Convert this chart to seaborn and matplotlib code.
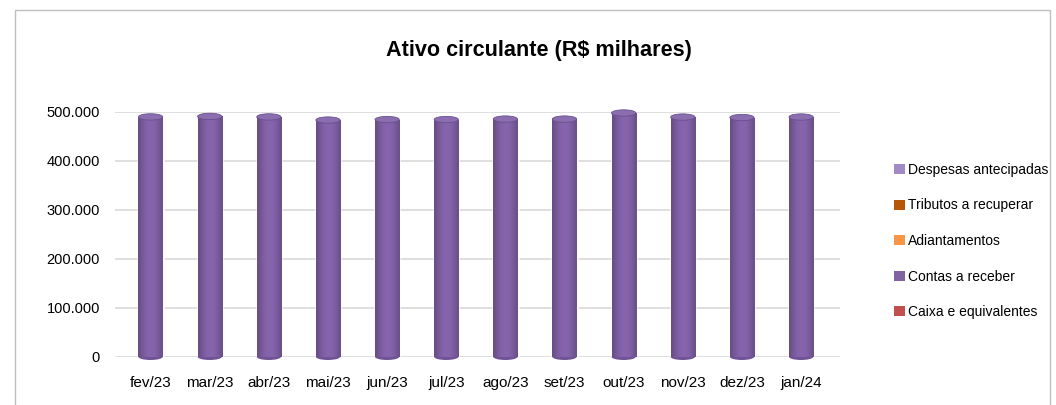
"""
ativo circulante - stacked cylinders (R$ milhares)
"""
import numpy as np
import pandas as pd
import seaborn as sea
import matplotlib.pyplot as plt
from matplotlib.patches import Ellipse, Patch, Rectangle

sea.set_style("white")
plt.rcParams["font.family"] = ["Liberation Sans", "DejaVu Sans"]
plt.rcParams["text.color"] = "black"
plt.rcParams["xtick.color"] = "black"
plt.rcParams["ytick.color"] = "black"

MONTHS = ["fev/23", "mar/23", "abr/23", "mai/23", "jun/23", "jul/23",
          "ago/23", "set/23", "out/23", "nov/23", "dez/23", "jan/24"]

# values in R$ mil, bottom to top of the stack
caixa      = [1200, 1100, 1300, 1000, 1100, 1200, 1000, 1100, 1300, 1200, 1100, 1200]
contas     = [486000, 487000, 486000, 480000, 481000, 481000, 482000, 482000, 494000, 486000, 485000, 486000]
adiant     = [500, 500, 400, 500, 400, 400, 500, 400, 500, 400, 500, 400]
tributos   = [600, 600, 600, 500, 500, 500, 500, 500, 500, 500, 500, 500]
despesas   = [1200, 1300, 1200, 1100, 1100, 1000, 1100, 1100, 1200, 1100, 1100, 1200]

SERIES = ["Caixa e equivalentes", "Contas a receber", "Adiantamentos",
          "Tributos a recuperar", "Despesas antecipadas"]
COLORS = {
    "Caixa e equivalentes": "#C0504D",
    "Contas a receber": "#8064A2",
    "Adiantamentos": "#F79646",
    "Tributos a recuperar": "#B65708",
    "Despesas antecipadas": "#A28BC4",
}

df = pd.DataFrame([caixa, contas, adiant, tributos, despesas],
                  index=SERIES, columns=MONTHS).T
cum = df.cumsum(axis=1)

fig = plt.figure(figsize=(10.56, 4.05), dpi=100)
ax = fig.add_axes([0.109, 0.119, 0.686, 0.605])

BAR_W = 0.41
CAP_H = 13000
# draw from the top layer down so lower layers cover the taller ones
for name in SERIES[::-1]:
    sea.barplot(x=cum.index, y=cum[name].values, color=COLORS[name],
                width=BAR_W, saturation=1, ax=ax, zorder=3)

# cylinder shading: horizontal gradient clipped to each bar
shade = np.array([0.0, 0.35, 0.6, 0.8, 0.92, 1.0, 0.95, 0.85, 0.65, 0.4, 0.1])
base = np.array([0.52, 0.39, 0.67])
grad = np.clip(base[None, :] * (0.78 + 0.24 * shade[:, None]), 0, 1)[None, :, :]
for bar in list(ax.patches):
    x0, y0 = bar.get_x(), bar.get_y()
    w, h = bar.get_width(), bar.get_height()
    if h < 100000:
        continue
    im = ax.imshow(grad, extent=(x0, x0 + w, y0, y0 + h), aspect="auto",
                   zorder=3.5, interpolation="bicubic")
    im.set_clip_path(bar)

# cylinder caps and rounded bottoms
for i, total in enumerate(cum[SERIES[-1]].values):
    ax.add_patch(Ellipse((i, 0), BAR_W, CAP_H, facecolor="#6F5394",
                         edgecolor="none", zorder=2, clip_on=False))
    ax.add_patch(Ellipse((i, total), BAR_W, CAP_H, facecolor="#8A6EAF",
                         edgecolor="#6A4F8E", lw=0.6, zorder=5, clip_on=False))

ax.set_ylim(0, 500000)
ax.set_xlim(-0.6, len(MONTHS) - 0.35)
ax.set_yticks(np.arange(0, 500001, 100000))
ax.set_yticklabels(["0" if v == 0 else f"{v:,}".replace(",", ".")
                    for v in range(0, 500001, 100000)])
ax.yaxis.grid(True, color="#D9D9D9", lw=1.2, zorder=0)
ax.tick_params(axis="x", labelsize=11, length=0, pad=14)
ax.tick_params(axis="y", labelsize=10.5, length=0, pad=11)
ax.set_xlabel("")
ax.set_ylabel("")
sea.despine(ax=ax, left=True, bottom=True)

fig.suptitle("Ativo circulante (R$ milhares)", x=0.51, y=0.902,
             fontsize=15.6, fontweight="bold")

handles = [Patch(facecolor=COLORS[n], edgecolor="none") for n in SERIES[::-1]]
fig.legend(handles, SERIES[::-1], loc="center left",
           bbox_to_anchor=(0.847, 0.405), frameon=False, fontsize=10,
           handlelength=0.75, handleheight=0.75, handletextpad=0.25,
           labelspacing=1.55, borderaxespad=0, borderpad=0)

fig.patches.append(Rectangle((0.014, -0.01), 0.98, 0.985, transform=fig.transFigure,
                             fill=False, edgecolor="#BFBFBF", lw=1))

plt.savefig("out.png", dpi=100)
plt.close()
